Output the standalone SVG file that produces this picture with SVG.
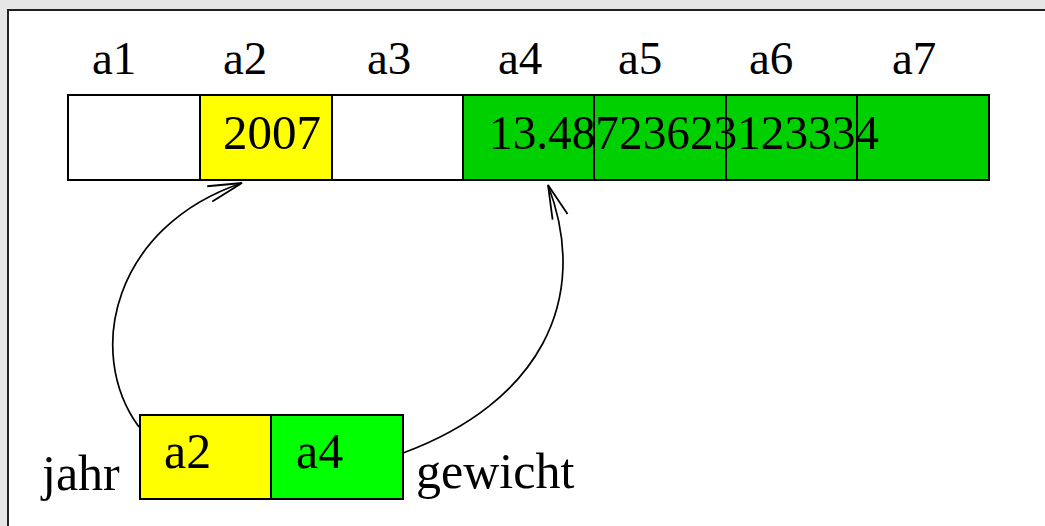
<svg xmlns="http://www.w3.org/2000/svg" width="1045" height="526" viewBox="0 0 1045 526">
  <style>
    .cell { stroke: #000; stroke-width: 2; }
    .white { fill: #ffffff; }
    .yellow { fill: #ffff00; }
    .green { fill: #00d000; }
    .lime { fill: #00ff00; }
    text { font-family: "Liberation Serif", "Times New Roman", serif; font-size: 49px; fill: #000; }
    .label { font-size: 47px; }
    .name { font-size: 50px; }
    .link { fill: none; stroke: #000; stroke-width: 1.7; marker-end: url(#open); }
  </style>
  <defs>
    <marker id="open" markerUnits="userSpaceOnUse" markerWidth="40" markerHeight="24" refX="0" refY="0" viewBox="-38 -12 40 24" orient="auto" overflow="visible">
      <path d="M -34,-8 L 0,0 L -34,8" fill="none" stroke="#000" stroke-width="1.8"/>
    </marker>
  </defs>

  <!-- page background and frame -->
  <rect x="0" y="0" width="1045" height="526" fill="#e6e6e6"/>
  <rect x="8" y="10" width="1100" height="600" fill="#ffffff" stroke="#222" stroke-width="2"/>

  <!-- column labels -->
  <g id="labels">
    <text class="label" x="92" y="74">a1</text>
    <text class="label" x="223" y="74">a2</text>
    <text class="label" x="367" y="74">a3</text>
    <text class="label" x="498" y="74">a4</text>
    <text class="label" x="618" y="74">a5</text>
    <text class="label" x="749" y="74">a6</text>
    <text class="label" x="892" y="74">a7</text>
  </g>

  <!-- memory row -->
  <g id="cell-a1"><rect class="cell white" x="68" y="95" width="132" height="85"/></g>
  <g id="cell-a2"><rect class="cell yellow" x="200" y="95" width="132" height="85"/>
    <text x="223" y="149">2007</text></g>
  <g id="cell-a3"><rect class="cell white" x="332" y="95" width="131" height="85"/></g>
  <g id="cell-a4"><rect class="cell green" x="463" y="95" width="131" height="85"/></g>
  <g id="cell-a5"><rect class="cell green" x="594" y="95" width="132" height="85"/></g>
  <g id="cell-a6"><rect class="cell green" x="726" y="95" width="131" height="85"/></g>
  <g id="cell-a7"><rect class="cell green" x="857" y="95" width="132" height="85"/></g>
  <g id="value-a4"><text x="489" y="149" font-size="48" textLength="390" lengthAdjust="spacingAndGlyphs">13.48723623123334</text></g>

  <!-- pointer variables -->
  <g id="jahr">
    <rect class="cell yellow" x="140" y="415" width="131" height="84"/>
    <text class="name" x="164" y="468">a2</text>
    <text class="name" x="42" y="490">jahr</text>
  </g>
  <g id="gewicht">
    <rect class="cell lime" x="271" y="415" width="132" height="84"/>
    <text class="name" x="296" y="468">a4</text>
    <text class="name" x="416" y="488">gewicht</text>
  </g>

  <!-- references -->
  <g id="connectors">
    <path class="link" d="M 139,427 C 84,352 114,226 242,183"/>
    <path class="link" d="M 403,453 C 538,403 592,301 548,185"/>
  </g>
</svg>
